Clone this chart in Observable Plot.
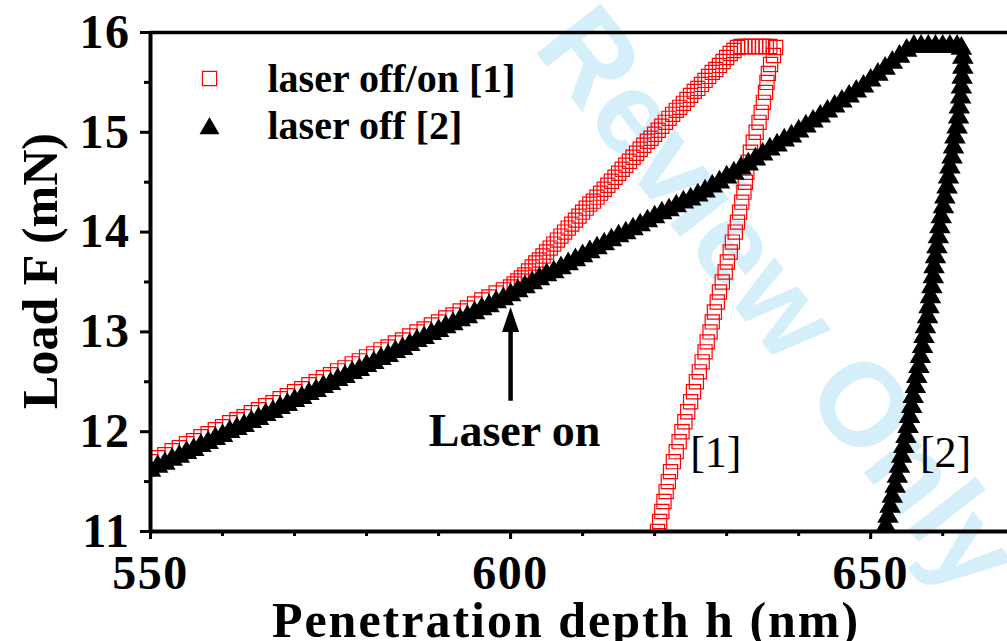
<!DOCTYPE html>
<html>
<head>
<meta charset="utf-8">
<script src="https://cdn.jsdelivr.net/npm/d3@7"></script>
<script src="https://cdn.jsdelivr.net/npm/@observablehq/plot@0.6"></script>
<style>
  html, body { margin: 0; padding: 0; background: #fff; overflow: hidden; }
  #chart svg { display: block; }
  g[aria-label="x-axis tick label"] text, g[aria-label="y-axis tick label"] text { letter-spacing: 1.5px; }
</style>
</head>
<body>
<div id="chart"></div>
<script>
// ---- data (h in nm, F in mN) ----
const seriesNames = ["laser off/on [1]", "laser off [2]"];

// series [1]: laser off/on (red open squares)
const redLoad = [
  [550,11.70],[551,11.74],[552,11.77],[553,11.81],[554,11.84],[555,11.88],[556,11.91],[557,11.95],[558,11.98],[559,12.02],
  [560,12.05],[561,12.09],[562,12.12],[563,12.15],[564,12.19],[565,12.22],[566,12.26],[567,12.29],[568,12.33],[569,12.36],
  [570,12.40],[571,12.43],[572,12.47],[573,12.50],[574,12.54],[575,12.57],[576,12.61],[577,12.64],[578,12.68],[579,12.71],
  [580,12.75],[581,12.78],[582,12.82],[583,12.85],[584,12.89],[585,12.92],[586,12.96],[587,13.00],[588,13.03],[589,13.07],
  [590,13.10],[591,13.14],[592,13.17],[593,13.21],[594,13.24],[595,13.28],[596,13.32],[597,13.35],[598,13.39],[599,13.42],
  [600,13.45],[600.5,13.48],[601,13.51],[601.5,13.54],[602,13.57],[602.5,13.61],[603,13.65],[603.5,13.69],[604,13.72],[604.5,13.76],
  [605,13.80],[605.5,13.84],[606,13.88],[606.5,13.92],[607,13.96],[607.5,14.00],[608,14.04],[608.5,14.08],[609,14.12],[609.5,14.16],
  [610,14.20],[610.5,14.24],[611,14.28],[611.5,14.31],[612,14.35],[612.5,14.39],[613,14.43],[613.5,14.47],[614,14.51],[614.5,14.55],
  [615,14.59],[615.5,14.63],[616,14.67],[616.5,14.71],[617,14.75],[617.5,14.79],[618,14.83],[618.5,14.87],[619,14.91],[619.5,14.94],
  [620,14.98],[620.5,15.02],[621,15.06],[621.5,15.10],[622,15.14],[622.5,15.18],[623,15.22],[623.5,15.25],[624,15.29],[624.5,15.33],
  [625,15.37],[625.5,15.41],[626,15.44],[626.5,15.48],[627,15.52],[627.5,15.56],[628,15.60],[628.5,15.63],[629,15.67],[629.5,15.71],
  [630,15.75],[630.5,15.79],[631,15.82],[631.5,15.85],[632,15.86]
];
const redTop = [
  [632.5,15.86],[633,15.86],[633.5,15.86],[634,15.86],[634.5,15.86],[635,15.86],[635.5,15.86],[636,15.86],[636.8,15.85]
];
const redUnload = [
  [636.5,15.77],[636.1,15.68],[635.8,15.59],[635.6,15.50],[635.4,15.40],[635.1,15.30],[634.8,15.20],[634.5,15.10],[634.1,15.00],
  [633.7,14.90],[633.3,14.80],[633.0,14.70],[632.8,14.60],[632.6,14.50],[632.4,14.40],[632.1,14.30],[631.8,14.20],[631.5,14.10],
  [631.2,14.00],[630.8,13.90],[630.5,13.80],[630.1,13.70],[629.8,13.60],[629.4,13.50],[629.0,13.40],[628.7,13.30],[628.3,13.20],
  [628.0,13.10],[627.7,13.00],[627.3,12.90],[627.0,12.80],[626.6,12.70],[626.2,12.60],[625.8,12.50],[625.4,12.40],[625.0,12.30],
  [624.6,12.20],[624.2,12.10],[623.8,12.00],[623.4,11.90],[623.0,11.80],[622.6,11.70],[622.2,11.60],[621.9,11.50],[621.6,11.40],
  [621.3,11.30],[621.0,11.20],[620.7,11.10],[620.4,11.00]
];

// series [2]: laser off (black filled triangles)
const blackLoad = [
  [550,11.61],[551,11.65],[552,11.68],[553,11.72],[554,11.75],[555,11.79],[556,11.82],[557,11.86],[558,11.89],[559,11.93],
  [560,11.96],[561,12.00],[562,12.03],[563,12.06],[564,12.10],[565,12.13],[566,12.17],[567,12.20],[568,12.24],[569,12.27],
  [570,12.31],[571,12.34],[572,12.38],[573,12.41],[574,12.45],[575,12.48],[576,12.52],[577,12.55],[578,12.59],[579,12.62],
  [580,12.66],[581,12.69],[582,12.73],[583,12.76],[584,12.80],[585,12.83],[586,12.87],[587,12.91],[588,12.94],[589,12.98],
  [590,13.01],[591,13.05],[592,13.08],[593,13.12],[594,13.15],[595,13.19],[596,13.23],[597,13.26],[598,13.30],[599,13.33],
  [600,13.37],[601,13.41],[602,13.45],[603,13.49],[604,13.53],[605,13.57],[606,13.60],[607,13.64],[608,13.68],[609,13.72],
  [610,13.76],[611,13.80],[612,13.84],[613,13.88],[614,13.92],[615,13.96],[616,13.99],[617,14.03],[618,14.07],[619,14.11],
  [620,14.15],[621,14.19],[622,14.22],[623,14.26],[624,14.30],[625,14.33],[626,14.37],[627,14.41],[628,14.46],[629,14.50],
  [630,14.55],[631,14.59],[632,14.64],[633,14.68],[634,14.73],[635,14.78],[636,14.83],[637,14.87],[638,14.92],[639,14.96],
  [640,15.01],[641,15.06],[642,15.11],[643,15.16],[644,15.21],[645,15.26],[646,15.31],[647,15.36],[648,15.41],[649,15.46],
  [650,15.52],[651,15.58],[652,15.64],[653,15.70],[654,15.76],[655,15.82],[656,15.86]
];
const blackTop = [
  [657,15.86],[658,15.86],[659,15.86],[660,15.86],[661,15.86],[662,15.86],[662.6,15.84]
];
const blackUnload = [
  [662.8,15.75],[662.8,15.65],[662.7,15.55],[662.6,15.45],[662.5,15.35],[662.3,15.25],[662.2,15.15],[662.0,15.05],[661.7,14.95],
  [661.5,14.85],[661.3,14.75],[661.0,14.65],[660.8,14.55],[660.6,14.45],[660.3,14.35],[660.1,14.25],[659.8,14.15],[659.6,14.05],
  [659.4,13.95],[659.2,13.85],[659.0,13.75],[658.8,13.65],[658.7,13.55],[658.5,13.45],[658.3,13.35],[658.1,13.25],[657.9,13.15],
  [657.6,13.05],[657.4,12.95],[657.2,12.85],[656.9,12.75],[656.7,12.65],[656.4,12.55],[656.2,12.45],[655.9,12.35],[655.7,12.25],
  [655.4,12.15],[655.2,12.05],[654.9,11.95],[654.6,11.85],[654.3,11.75],[654.0,11.65],[653.7,11.55],[653.4,11.45],[653.0,11.35],
  [652.7,11.25],[652.4,11.15],[652.1,11.05],[651.8,10.95]
];

// axes
const xDomain = [550, 669];
const yDomain = [11, 16];
const xMajorTicks = [550, 600, 650];
const xMinorTicks = [560, 570, 580, 590, 610, 620, 630, 640, 660];
const yMajorTicks = [11, 12, 13, 14, 15, 16];
const yMinorTicks = [11.5, 12.5, 13.5, 14.5, 15.5];
const xTitle = "Penetration depth h (nm)";
const yTitle = "Load F (mN)";

// annotations
const arrowLabel = "Laser on";
const arrowH = 600;
const arrowF = [12.31, 13.0];    // shaft bottom, head base
const arrowLabelF = 11.86;       // baseline of "Laser on"
const curveLabels = ["[1]", "[2]"];
const curveLabelH = [628.5, 660.4];
const curveLabelF = [11.65, 11.65];
const watermark = "Review Only";

// ---- build ----
const toRows = (arr) => arr.map(([h, F]) => ({h, F}));
const redRows = toRows([...redLoad, ...redTop, ...redUnload]);
const blackRows = toRows([...blackLoad, ...blackTop, ...blackUnload]);
const annotRows = curveLabels.map((t, i) => ({t, h: curveLabelH[i], F: curveLabelF[i]}));

const serif = "'Liberation Serif', 'Times New Roman', Times, serif";
const headSymbol = {
  draw(context) {
    context.moveTo(0, -25);
    context.lineTo(8.5, 0);
    context.lineTo(-8.5, 0);
    context.closePath();
  }
};

const chart = Plot.plot({
  width: 1007,
  height: 641,
  marginLeft: 150,
  marginRight: 0,
  marginTop: 32,
  marginBottom: 110,
  x: {domain: xDomain},
  y: {domain: yDomain},
  style: {
    fontFamily: serif,
    fontWeight: "bold",
    fontSize: "48px",
    color: "black",
    background: "white",
    overflow: "visible"
  },
  marks: [
    // watermark
    Plot.text([watermark], {
      frameAnchor: "top-left", dx: 627, dy: 268, rotate: 52,
      text: d => d, fill: "#d4eefa", fontSize: 118, fontWeight: "bold",
      fontFamily: "'Liberation Sans', Arial, sans-serif",
      textAnchor: "middle", lineAnchor: "middle"
    }),
    // data
    Plot.dot(redRows, {x: "h", y: "F", symbol: "square", r: 8, stroke: "#ff0000", strokeWidth: 1.2, fill: "none", clip: true}),
    Plot.dot(blackRows, {x: "h", y: "F", symbol: "triangle", r: 8, fill: "black", stroke: "none", clip: true}),
    // axes
    Plot.axisX({ticks: xMajorTicks, tickSize: 8, tickPadding: 15, strokeWidth: 3, label: null, tickFormat: d => String(d), fontSize: 48, fontWeight: "bold"}),
    Plot.axisX({ticks: xMinorTicks, tickSize: 5, strokeWidth: 3, label: null, tickFormat: () => ""}),
    Plot.axisY({ticks: yMajorTicks, tickSize: 10, tickPadding: 10, strokeWidth: 3, label: null, tickFormat: d => String(d), fontSize: 48, fontWeight: "bold"}),
    Plot.axisY({ticks: yMinorTicks, tickSize: 6, strokeWidth: 3, label: null, tickFormat: () => ""}),
    Plot.ruleX([xDomain[0]], {strokeWidth: 4}),
    Plot.ruleY([yDomain[0]], {strokeWidth: 4}),
    Plot.ruleY([yDomain[1]], {strokeWidth: 3.5}),
    // arrow "Laser on"
    Plot.link([arrowLabel], {x1: () => arrowH, x2: () => arrowH, y1: () => arrowF[0], y2: () => arrowF[1], stroke: "black", strokeWidth: 4.5}),
    Plot.dot([arrowLabel], {x: () => arrowH, y: () => arrowF[1], symbol: headSymbol, fill: "black", stroke: "none"}),
    Plot.text([arrowLabel], {x: () => arrowH, y: () => arrowLabelF, text: d => d, dx: 4, fontSize: 46, fontWeight: "bold", lineAnchor: "bottom"}),
    Plot.text(annotRows, {x: "h", y: "F", text: "t", fontSize: 44, fontWeight: "normal", lineAnchor: "bottom"}),
    // legend
    Plot.dot([seriesNames[0]], {frameAnchor: "top-left", dx: 59, dy: 46, symbol: "square", r: 8, stroke: "#ff0000", strokeWidth: 1.2, fill: "none"}),
    Plot.dot([seriesNames[1]], {frameAnchor: "top-left", dx: 59, dy: 96, symbol: "triangle", r: 7.4, fill: "black", stroke: "none"}),
    Plot.text([seriesNames[0]], {frameAnchor: "top-left", dx: 117, dy: 59, text: d => d, textAnchor: "start", lineAnchor: "bottom", fontSize: 40, fontWeight: "bold"}),
    Plot.text([seriesNames[1]], {frameAnchor: "top-left", dx: 117, dy: 106, text: d => d, textAnchor: "start", lineAnchor: "bottom", fontSize: 40, fontWeight: "bold"}),
    // axis titles
    Plot.text([xTitle], {frameAnchor: "bottom", dx: -13, dy: 105, text: d => d, textAnchor: "middle", lineAnchor: "bottom", fontSize: 50, fontWeight: "bold"}),
    Plot.text([yTitle], {frameAnchor: "left", dx: -110, dy: -11, rotate: -90, text: d => d, textAnchor: "middle", lineAnchor: "middle", fontSize: 50, fontWeight: "bold"})
  ]
});
// slightly wider letter spacing for the x-axis title, as in the reference
d3.select(chart).selectAll("text")
  .filter(function () { return this.textContent === xTitle; })
  .style("letter-spacing", "2px");
document.getElementById("chart").appendChild(chart);
</script>
</body>
</html>
